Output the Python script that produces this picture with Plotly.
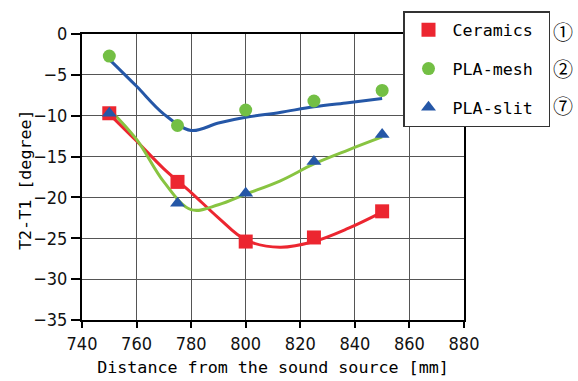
import plotly.graph_objects as go

# measured points
distance = [750, 775, 800, 825, 850]
ceramics = [-9.7, -18.1, -25.4, -24.9, -21.7]
pla_mesh = [-2.7, -11.2, -9.3, -8.2, -6.9]
pla_slit = [-9.7, -20.7, -19.5, -15.6, -12.3]

# smooth fitted curves
fit_x = [750, 760, 770, 780, 790, 800, 812.5, 825, 837.5, 850]
fit_ceramics = [-9.8, -13.1, -16.5, -19.4, -22.5, -25.2, -26.1, -25.4, -23.8, -21.8]
fit_mesh = [-3.1, -6.4, -9.8, -11.8, -10.9, -10.2, -9.6, -8.9, -8.4, -7.9]
fit_slit = [-9.2, -12.9, -18.1, -21.5, -20.9, -19.6, -18.0, -15.9, -14.2, -12.6]

x_ticks = [740, 760, 780, 800, 820, 840, 860, 880]
y_ticks = [0, -5, -10, -15, -20, -25, -30, -35]
circled = ["①", "②", "⑦"]
series_names = ["Ceramics", "PLA-mesh", "PLA-slit"]

RED = "#EC2630"
GREEN_M = "#73BF44"
GREEN_L = "#88C441"
BLUE = "#2557A7"
MONO = "DejaVu Sans Mono"
NARROW = "DejaVu Sans Condensed, DejaVu Sans, sans-serif"

L, R, T, B = 82, 114, 34, 61
PW, PH = 578 - L - R, 381 - T - B

fig = go.Figure()

# fitted curves (no legend)
fig.add_trace(go.Scatter(x=fit_x, y=fit_ceramics, mode="lines", line=dict(color=RED, width=3, shape="spline"),
                         showlegend=False, hoverinfo="skip"))
fig.add_trace(go.Scatter(x=fit_x, y=fit_mesh, mode="lines", line=dict(color=BLUE, width=3, shape="spline"),
                         showlegend=False, hoverinfo="skip"))
fig.add_trace(go.Scatter(x=fit_x, y=fit_slit, mode="lines", line=dict(color=GREEN_L, width=3, shape="spline"),
                         showlegend=False, hoverinfo="skip"))

# markers
fig.add_trace(go.Scatter(x=distance, y=ceramics, mode="markers", name=series_names[0] + "\u00a0", legendgroup="a",
                         marker=dict(symbol="square", size=14, color=RED)))
fig.add_trace(go.Scatter(x=distance, y=pla_mesh, mode="markers", name=series_names[1] + "\u00a0", legendgroup="b",
                         marker=dict(symbol="circle", size=13, color=GREEN_M)))
fig.add_trace(go.Scatter(x=distance, y=pla_slit, mode="markers", name=series_names[2] + "\u00a0", legendgroup="c",
                         marker=dict(symbol="triangle-up", size=13, color=BLUE)))

for i, c in enumerate(circled):
    fig.add_annotation(x=(551 - L) / PW, y=(381 - B - (31 + 37 * i)) / PH, xref="paper", yref="paper",
                       xanchor="left", yanchor="middle", text=c, showarrow=False,
                       font=dict(family="Noto Sans CJK JP", size=20, color="black"))

# y-axis title placed precisely
fig.add_annotation(x=(25 - L) / PW, y=(381 - B - 180) / PH, xref="paper", yref="paper",
                   xanchor="center", yanchor="middle", text="T2-T1 [degree]", textangle=-90,
                   showarrow=False, font=dict(family=MONO, size=16.7, color="black"))

tickfont = dict(family=NARROW, size=18, color="#111")

fig.update_layout(
    width=578, height=381,
    margin=dict(l=L, r=R, t=T, b=B, autoexpand=False),
    paper_bgcolor="white", plot_bgcolor="white",
    legend=dict(x=(403 - L) / PW, y=(381 - B - 11) / PH, xanchor="left", yanchor="top",
                bordercolor="#333", borderwidth=1.5, bgcolor="white",
                font=dict(family=MONO, size=16.7, color="black"),
                itemwidth=38,
                traceorder="grouped", tracegroupgap=14),
    xaxis=dict(range=[740, 880], tickvals=x_ticks, ticktext=[str(v) for v in x_ticks],
               showgrid=True, gridcolor="#555", gridwidth=1, automargin=False,
               showline=True, linecolor="black", linewidth=2, mirror=True,
               ticks="outside", ticklen=6, tickcolor="black", tickwidth=1.5,
               tickfont=tickfont,
               title=dict(text="Distance from the sound source [mm]", standoff=9,
                          font=dict(family=MONO, size=16.7, color="black")),
               zeroline=False),
    yaxis=dict(range=[-35, 0], tickvals=y_ticks, ticktext=[str(v).replace("-", "\u2212") for v in y_ticks],
               showgrid=True, gridcolor="#555", gridwidth=1, automargin=False,
               showline=True, linecolor="black", linewidth=2, mirror=True,
               ticks="outside", ticklen=9, tickcolor="black", tickwidth=1.5,
               tickfont=tickfont,
               zeroline=False),
)

fig.write_html("out.html", config={"displayModeBar": False},
               post_script="document.body.style.margin='0';document.body.style.padding='0';")
